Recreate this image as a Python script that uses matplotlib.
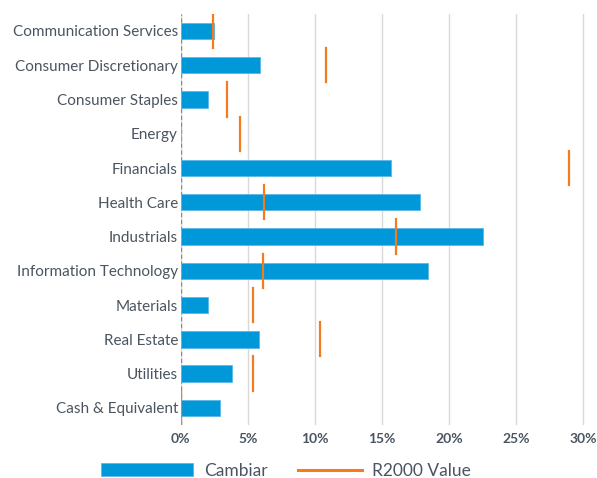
import numpy as np
import matplotlib
matplotlib.use("Agg")
from matplotlib import pyplot as plt

sectors = ["Communication Services", "Consumer Discretionary", "Consumer Staples",
           "Energy", "Financials", "Health Care", "Industrials",
           "Information Technology", "Materials", "Real Estate", "Utilities",
           "Cash & Equivalent"]
cambiar = [2.5, 5.9, 2.0, 0.05, 15.7, 17.8, 22.55, 18.4, 2.0, 5.85, 3.85, 2.95]
r2000 = [2.4, 10.85, 3.45, 4.4, 28.95, 6.2, 16.05, 6.1, 5.4, 10.4, 5.38, 0.0]
xticks = [0, 5, 10, 15, 20, 25, 30]

blue = "#0098D8"
orange = "#F47B20"
text_col = "#4A5560"

plt.rcParams['font.family'] = ['Lato', 'DejaVu Sans']

fig = plt.figure(figsize=(5.97, 4.78), dpi=100)
ax = fig.add_axes([0.3027, 0.111, 0.679, 0.86])

y = np.arange(len(sectors))
bars = ax.barh(y, cambiar, height=0.48, color=blue, edgecolor="#5BB8E6",
               linewidth=0.6, zorder=3)
for i in range(len(sectors)):
    ln, = ax.plot([r2000[i], r2000[i]], [i - 0.5, i + 0.5], color=orange,
                  lw=1.6, zorder=4)

ax.set_ylim(len(sectors) - 0.5, -0.5)
ax.set_xlim(0, 30.2)
ax.set_yticks(y)
ax.set_yticklabels(sectors, fontsize=11, color=text_col)
ax.set_xticks(xticks)
ax.set_xticklabels([f"{t}%" for t in xticks], fontsize=10, color=text_col,
                   fontweight="bold")
ax.tick_params(length=0, pad=2)
ax.tick_params(axis="x", pad=6)
ax.grid(axis="x", color="#D9D9D9", lw=1, zorder=0)
ax.axvline(0, color="#888888", lw=1, ls=(0, (3, 2)), zorder=2)
for s in ax.spines.values():
    s.set_visible(False)

leg1 = fig.legend([bars], ["Cambiar"], loc="center left",
                  bbox_to_anchor=(0.155, 0.015), frameon=False, fontsize=12.5,
                  handlelength=5.3, handleheight=0.8, handletextpad=0.6,
                  labelcolor=text_col, borderpad=0)
leg2 = fig.legend([ln], ["R2000 Value"], loc="center left",
                  bbox_to_anchor=(0.484, 0.015), frameon=False, fontsize=12.5,
                  handlelength=3.7, handletextpad=0.6,
                  labelcolor=text_col, borderpad=0)
for h in leg2.get_lines():
    h.set_linewidth(2.2)

plt.savefig("out.png", dpi=100)
